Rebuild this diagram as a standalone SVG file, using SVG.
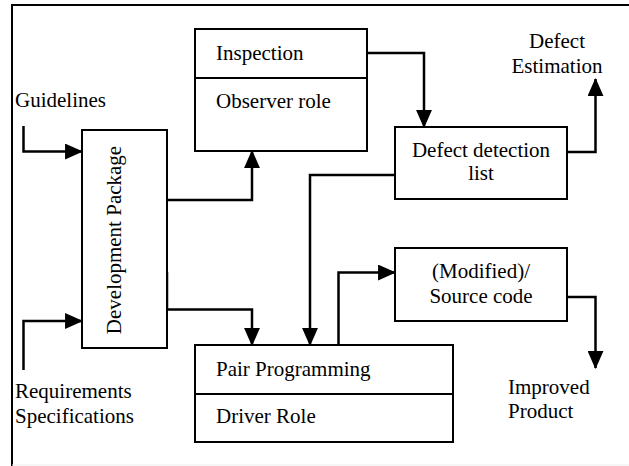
<svg xmlns="http://www.w3.org/2000/svg" width="629" height="466" viewBox="0 0 629 466">
<defs>
<marker id="ah" markerUnits="userSpaceOnUse" markerWidth="18" markerHeight="16" viewBox="0 0 17 15" refX="16" refY="7.5" orient="auto">
<path d="M0,0 L17,7.5 L0,15 z" fill="#000"/>
</marker>
</defs>
<rect width="629" height="466" fill="#fff"/>
<g id="frame">
<path d="M629,5 H12 V466" fill="none" stroke="#000" stroke-width="2"/>
<path d="M12,465 H629" fill="none" stroke="#eeeeee" stroke-width="1"/>
</g>
<g id="connectors" fill="none" stroke="#000" stroke-width="2.5" marker-end="url(#ah)">
<path d="M23.5,126 V151.5 H82"/>
<path d="M23.5,370 V321 H82"/>
<path d="M167,200 H252 V151"/>
<path d="M167,272 V309.5 H252 V345"/>
<path d="M367,53 H424 V127"/>
<path d="M567,152 H595.5 V79"/>
<path d="M395,175 H310 V345"/>
<path d="M338.5,345 V272.5 H395"/>
<path d="M567,297 H595.5 V368"/>
</g>
<g id="guidelines"><text x="15" y="107" font-family="Liberation Serif" font-size="21">Guidelines</text></g>
<g id="requirements"><text x="15" y="398" font-family="Liberation Serif" font-size="21">Requirements</text><text x="15" y="423" font-family="Liberation Serif" font-size="21">Specifications</text></g>
<g id="devpackage">
<rect x="82" y="130" width="85" height="218" fill="#fff" stroke="#000" stroke-width="2"/>
<text transform="translate(121,240) rotate(-90)" text-anchor="middle" font-family="Liberation Serif" font-size="21">Development Package</text>
</g>
<g id="inspection">
<rect x="195" y="29" width="172" height="122" fill="#fff" stroke="#000" stroke-width="2"/>
<path d="M195,78 H367" fill="none" stroke="#000" stroke-width="2"/>
<text x="216" y="60" font-family="Liberation Serif" font-size="21">Inspection</text>
<text x="216" y="108" font-family="Liberation Serif" font-size="21">Observer role</text>
</g>
<g id="defectlist">
<rect x="395" y="127" width="172" height="72" fill="#fff" stroke="#000" stroke-width="2"/>
<text x="481" y="157" text-anchor="middle" font-family="Liberation Serif" font-size="21">Defect detection</text>
<text x="481" y="180" text-anchor="middle" font-family="Liberation Serif" font-size="21">list</text>
</g>
<g id="estimation">
<text x="557" y="48" text-anchor="middle" font-family="Liberation Serif" font-size="21">Defect</text>
<text x="557" y="73" text-anchor="middle" font-family="Liberation Serif" font-size="21">Estimation</text>
</g>
<g id="pairprog">
<rect x="195" y="345" width="258" height="97" fill="#fff" stroke="#000" stroke-width="2"/>
<path d="M195,394 H453" fill="none" stroke="#000" stroke-width="2"/>
<text x="216" y="376" font-family="Liberation Serif" font-size="21">Pair Programming</text>
<text x="216" y="423" font-family="Liberation Serif" font-size="21">Driver Role</text>
</g>
<g id="source">
<rect x="395" y="248" width="172" height="73" fill="#fff" stroke="#000" stroke-width="2"/>
<text x="481" y="278" text-anchor="middle" font-family="Liberation Serif" font-size="21">(Modified)/</text>
<text x="481" y="303" text-anchor="middle" font-family="Liberation Serif" font-size="21">Source code</text>
</g>
<g id="improved">
<text x="508" y="394" font-family="Liberation Serif" font-size="21">Improved</text>
<text x="508" y="418" font-family="Liberation Serif" font-size="21">Product</text>
</g>
</svg>
